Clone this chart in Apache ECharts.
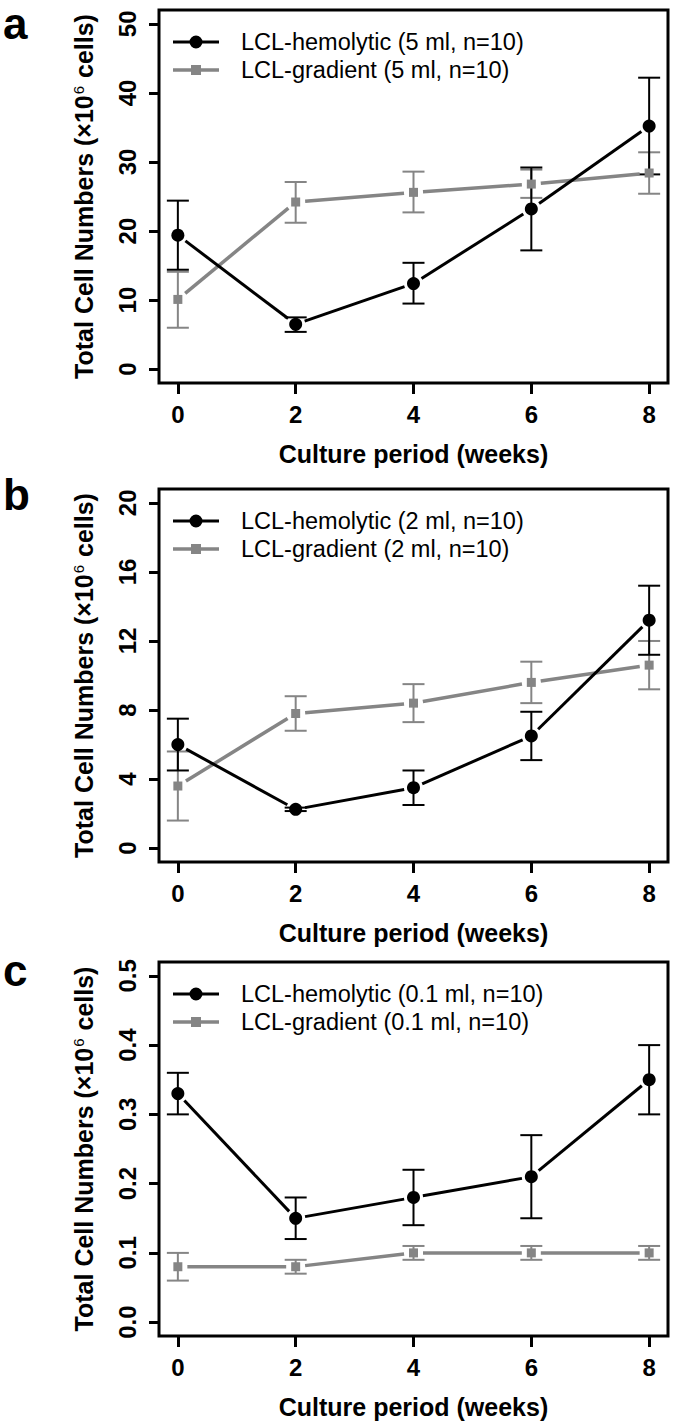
<!DOCTYPE html>
<html><head><meta charset="utf-8">
<script src="https://cdn.jsdelivr.net/npm/echarts@6/dist/echarts.min.js"></script>
<style>html,body{margin:0;padding:0;background:#fff;}#c{width:675px;height:1426px;}</style>
</head><body><div id="c"></div>
<script>
// ---- data ----
const weeks = [0, 2, 4, 6, 8];
const xTicks = [0, 2, 4, 6, 8];

const aHemoMean = [19.4, 6.5, 12.4, 23.2, 35.2];
const aHemoLo   = [14.4, 5.4, 9.5, 17.2, 28.2];
const aHemoHi   = [24.4, 7.5, 15.4, 29.2, 42.2];
const aGradMean = [10.1, 24.2, 25.6, 26.8, 28.4];
const aGradLo   = [6.0, 21.2, 22.7, 24.8, 25.4];
const aGradHi   = [14.1, 27.1, 28.6, 28.9, 31.4];
const aYTicks   = [0, 10, 20, 30, 40, 50];

const bHemoMean = [6.0, 2.25, 3.5, 6.5, 13.2];
const bHemoLo   = [4.5, 2.15, 2.5, 5.1, 11.2];
const bHemoHi   = [7.5, 2.35, 4.5, 7.9, 15.2];
const bGradMean = [3.6, 7.8, 8.4, 9.6, 10.6];
const bGradLo   = [1.6, 6.8, 7.3, 8.4, 9.2];
const bGradHi   = [5.6, 8.8, 9.5, 10.8, 12.0];
const bYTicks   = [0, 4, 8, 12, 16, 20];

const cHemoMean = [0.33, 0.15, 0.18, 0.21, 0.35];
const cHemoLo   = [0.30, 0.12, 0.14, 0.15, 0.30];
const cHemoHi   = [0.36, 0.18, 0.22, 0.27, 0.40];
const cGradMean = [0.08, 0.08, 0.10, 0.10, 0.10];
const cGradLo   = [0.06, 0.07, 0.09, 0.09, 0.09];
const cGradHi   = [0.10, 0.09, 0.11, 0.11, 0.11];
const cYTicks   = [0.0, 0.1, 0.2, 0.3, 0.4, 0.5];

const panelLetters = ['a', 'b', 'c'];
const hemoNames = ['LCL-hemolytic (5 ml, n=10)', 'LCL-hemolytic (2 ml, n=10)', 'LCL-hemolytic (0.1 ml, n=10)'];
const gradNames = ['LCL-gradient (5 ml, n=10)', 'LCL-gradient (2 ml, n=10)', 'LCL-gradient (0.1 ml, n=10)'];
const xTitle = 'Culture period (weeks)';

// ---- styling / layout ----
const FF = "'Liberation Sans', Arial, Helvetica, sans-serif";
const BLACK = '#000000';
const GRAY = '#858585';
const panels = [
  {top: 10,  height: 373, hemo: [aHemoMean, aHemoLo, aHemoHi], grad: [aGradMean, aGradLo, aGradHi], ticks: aYTicks, dec: 0},
  {top: 489, height: 373, hemo: [bHemoMean, bHemoLo, bHemoHi], grad: [bGradMean, bGradLo, bGradHi], ticks: bYTicks, dec: 0},
  {top: 962, height: 374, hemo: [cHemoMean, cHemoLo, cHemoHi], grad: [cGradMean, cGradLo, cGradHi], ticks: cYTicks, dec: 1}
];
const letterY = [23, 494, 970];

const hemoIcon = 'path://M0,5H46V8H0Z M16.5,6.5A6.5,6.5 0 1 1 29.5,6.5A6.5,6.5 0 1 1 16.5,6.5Z';
const gradIcon = 'path://M0,0L0.01,0L0,0.01Z M0,4.75H46V8.25H0Z M18,1.5H28V11.5H18Z M46,13L45.99,13L46,12.99Z';

function errRender(color, cap, lw) {
  return function (params, api) {
    const x = api.value(0), lo = api.value(1), hi = api.value(2);
    const pH = api.coord([x, hi]);
    const pL = api.coord([x, lo]);
    const style = {stroke: color, lineWidth: lw, fill: null};
    return {type: 'group', children: [
      {type: 'line', shape: {x1: pH[0], y1: pH[1], x2: pL[0], y2: pL[1]}, style: style},
      {type: 'line', shape: {x1: pH[0] - cap, y1: pH[1], x2: pH[0] + cap, y2: pH[1]}, style: style},
      {type: 'line', shape: {x1: pL[0] - cap, y1: pL[1], x2: pL[0] + cap, y2: pL[1]}, style: style}
    ]};
  };
}
// connecting segments with a small gap around each point (R type = "b")
function segRender(color, lw, gap) {
  return function (params, api) {
    const p1 = api.coord([api.value(0), api.value(1)]);
    const p2 = api.coord([api.value(2), api.value(3)]);
    const dx = p2[0] - p1[0], dy = p2[1] - p1[1];
    const len = Math.sqrt(dx * dx + dy * dy);
    if (len <= 2 * gap) return null;
    const ux = dx / len, uy = dy / len;
    return {type: 'line',
      shape: {x1: p1[0] + ux * gap, y1: p1[1] + uy * gap, x2: p2[0] - ux * gap, y2: p2[1] - uy * gap},
      style: {stroke: color, lineWidth: lw, fill: null, lineCap: 'butt'}};
  };
}
function segData(means) {
  const out = [];
  for (let k = 0; k < weeks.length - 1; k++) out.push([weeks[k], means[k], weeks[k + 1], means[k + 1]]);
  return out;
}

const grids = [], xAxes = [], yAxes = [], series = [], legends = [], graphics = [];
panels.forEach(function (p, i) {
  grids.push({left: 159, width: 509, top: p.top, height: p.height, show: true,
    borderColor: BLACK, borderWidth: 3, backgroundColor: 'transparent', containLabel: false});
  xAxes.push({type: 'value', gridIndex: i, min: -0.32, max: 8.32, position: 'bottom',
    axisLine: {show: false, onZero: false}, splitLine: {show: false},
    axisTick: {show: true, customValues: xTicks, length: 11, lineStyle: {color: BLACK, width: 3}},
    axisLabel: {show: true, customValues: xTicks, margin: 19, color: BLACK, fontSize: 24, fontWeight: 'bold', fontFamily: FF},
    name: xTitle, nameLocation: 'middle', nameGap: 58,
    nameTextStyle: {color: BLACK, fontSize: 25, fontWeight: 'bold', fontFamily: FF}
  });
  const span = p.ticks[p.ticks.length - 1] - p.ticks[0];
  const dec = p.dec;
  yAxes.push({type: 'value', gridIndex: i, position: 'left',
    min: p.ticks[0] - span * 0.04, max: p.ticks[p.ticks.length - 1] + span * 0.04,
    axisLine: {show: false, onZero: false}, splitLine: {show: false},
    axisTick: {show: true, customValues: p.ticks, length: 10, lineStyle: {color: BLACK, width: 3}},
    axisLabel: {show: true, customValues: p.ticks, rotate: 90, margin: 20, color: BLACK, fontSize: 24, fontWeight: 'bold', fontFamily: FF,
      formatter: function (v) { return Number(v).toFixed(dec); }},
    name: '{t|Total Cell Numbers (\u00d710}{s|6}{t| cells)}', nameLocation: 'middle', nameGap: 62, nameRotate: 90,
    nameTextStyle: {color: BLACK, fontFamily: FF, rich: {
      t: {fontSize: 25, fontWeight: 'bold', fontFamily: FF, color: BLACK, lineHeight: 26},
      s: {fontSize: 15, fontWeight: 'normal', fontFamily: FF, color: BLACK, verticalAlign: 'top', lineHeight: 26, padding: [0, 1, 0, 1]}
    }}
  });
  const gradErr = weeks.map(function (w, k) { return [w, p.grad[1][k], p.grad[2][k]]; });
  const hemoErr = weeks.map(function (w, k) { return [w, p.hemo[1][k], p.hemo[2][k]]; });
  series.push({type: 'custom', name: 'err-grad-' + i, xAxisIndex: i, yAxisIndex: i, renderItem: errRender(GRAY, 11, 2),
    encode: {x: 0, y: [1, 2]}, data: gradErr, z: 2, silent: true});
  series.push({type: 'custom', name: 'err-hemo-' + i, xAxisIndex: i, yAxisIndex: i, renderItem: errRender(BLACK, 11, 2),
    encode: {x: 0, y: [1, 2]}, data: hemoErr, z: 3, silent: true});
  series.push({type: 'custom', name: 'seg-grad-' + i, xAxisIndex: i, yAxisIndex: i, renderItem: segRender(GRAY, 3.5, 9.5),
    encode: {x: [0, 2], y: [1, 3]}, data: segData(p.grad[0]), z: 4, silent: true});
  series.push({type: 'scatter', name: gradNames[i], xAxisIndex: i, yAxisIndex: i,
    data: weeks.map(function (w, k) { return [w, p.grad[0][k]]; }),
    symbol: 'rect', symbolSize: 9, color: GRAY,
    itemStyle: {color: GRAY, borderWidth: 0, opacity: 1}, z: 4, silent: true});
  series.push({type: 'custom', name: 'seg-hemo-' + i, xAxisIndex: i, yAxisIndex: i, renderItem: segRender(BLACK, 3, 9.5),
    encode: {x: [0, 2], y: [1, 3]}, data: segData(p.hemo[0]), z: 5, silent: true});
  series.push({type: 'scatter', name: hemoNames[i], xAxisIndex: i, yAxisIndex: i,
    data: weeks.map(function (w, k) { return [w, p.hemo[0][k]]; }),
    symbol: 'circle', symbolSize: 13, color: BLACK,
    itemStyle: {color: BLACK, borderWidth: 0, opacity: 1}, z: 5, silent: true});
  legends.push({orient: 'vertical', left: 173, top: p.top + 20, itemWidth: 46, itemHeight: 13, itemGap: 4,
    selectedMode: false, padding: 0,
    textStyle: {fontSize: 23.5, fontFamily: FF, color: BLACK, lineHeight: 23, padding: [0, 0, 0, 17]},
    data: [
      {name: hemoNames[i], icon: hemoIcon, itemStyle: {color: BLACK, borderWidth: 0}},
      {name: gradNames[i], icon: gradIcon, itemStyle: {color: GRAY, borderWidth: 0}}
    ]});
  graphics.push({type: 'text', x: 3, y: letterY[i],
    style: {text: panelLetters[i], fill: BLACK, font: 'bold 44px ' + FF, lineHeight: 44, textAlign: 'left', verticalAlign: 'middle'}});
});

const chart = echarts.init(document.getElementById('c'), null, {renderer: 'svg'});
chart.setOption({
  animation: false,
  backgroundColor: '#ffffff',
  grid: grids, xAxis: xAxes, yAxis: yAxes, series: series, legend: legends,
  graphic: {elements: graphics}
});
</script>
</body></html>
